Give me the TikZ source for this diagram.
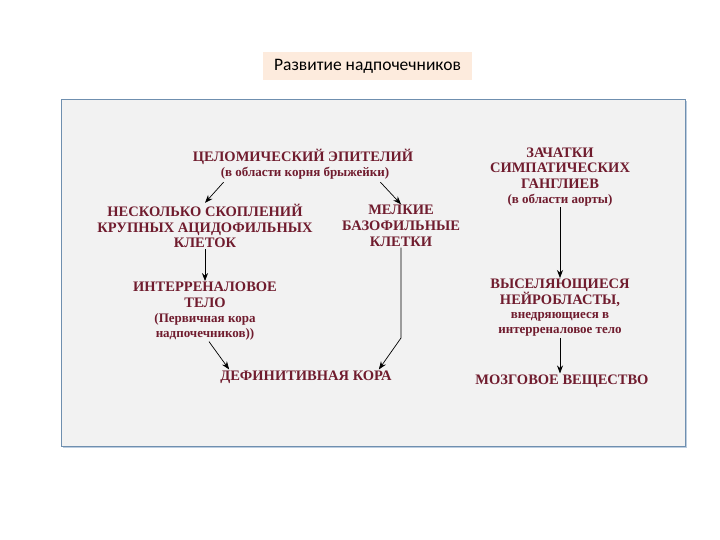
\documentclass[tikz,border=0pt]{standalone}
\usepackage{fontspec}
\setmainfont{Liberation Serif}
\newfontfamily\titlefont{Carlito}
\usetikzlibrary{positioning,calc,arrows.meta}
\usepackage{xcolor}
\definecolor{krasn}{HTML}{701C2E}
\definecolor{panelfon}{HTML}{F2F2F2}
\definecolor{panelram}{HTML}{6F8FAF}
\definecolor{panelten}{HTML}{BCCDE0}
\definecolor{titlefon}{HTML}{FDEBDD}
\tikzset{
zagl/.style={
  text=krasn,
  font=\bfseries\fontsize{14.5}{15.7}\selectfont,
  align=center,
  inner sep=1pt
  },
podp/.style={
  text=krasn,
  font=\bfseries\fontsize{13}{15.5}\selectfont,
  align=center,
  inner sep=1pt
  },
strel/.style={-{Stealth[length=8pt,width=6pt]},black,line width=0.7pt},
%tonk/.style={densely dashed}
}

\begin{document}
\begin{tikzpicture}[x=1pt,y=-1pt]
    \useasboundingbox (0,0) rectangle (720,540);
    % zagolovok
    \node[fill=titlefon,minimum width=209pt,minimum height=28pt,
          font=\titlefont\fontsize{17.5}{19}\selectfont] (titul) at (367.5,66)
          {Развитие надпочечников};
    % panel
    \fill[panelten] (62.5,101) rectangle (686.5,448);
    \draw[panelram,fill=panelfon,line width=0.8pt] (61,99) rectangle (685,446);

    % levaya vetv
    \node[zagl] (celom) at (303,157) {ЦЕЛОМИЧЕСКИЙ ЭПИТЕЛИЙ};
    \node[podp] (celomsub) at (305,173) {(в области корня брыжейки)};
    \node[zagl] (akid) at (205,226) {НЕСКОЛЬКО СКОПЛЕНИЙ\\КРУПНЫХ АЦИДОФИЛЬНЫХ\\КЛЕТОК};
    \node[zagl] (bazo) at (401,226) {МЕЛКИЕ\\БАЗОФИЛЬНЫЕ\\КЛЕТКИ};
    \node[zagl] (inter) at (205,295) {ИНТЕРРЕНАЛОВОЕ\\ТЕЛО};
    \node[podp,below=3pt of inter] (intersub) {(Первичная кора\\надпочечников))};
    \node[zagl] (defin) at (306,377) {ДЕФИНИТИВНАЯ КОРА};

    % pravaya vetv
    \node[zagl] (zach) at (560,168) {ЗАЧАТКИ\\СИМПАТИЧЕСКИХ\\ГАНГЛИЕВ};
    \node[podp,below=3pt of zach] (zachsub) {(в области аорты)};
    \node[zagl] (neuro) at (560,293) {ВЫСЕЛЯЮЩИЕСЯ\\НЕЙРОБЛАСТЫ,};
    \node[podp,below=3pt of neuro] (neurosub) {внедряющиеся в\\интерреналовое тело};
    \node[zagl] (mozg) at (562,381) {МОЗГОВОЕ ВЕЩЕСТВО};

    % strelki
    \coordinate (izgib) at (bazo.south |- 0,338);
    \draw[strel] ([xshift=4pt,yshift=-2pt]celomsub.south west) -- (akid.north);
    \draw[strel] ([xshift=-10pt,yshift=-2pt]celomsub.south east) -- (bazo.north);
    \draw[strel] (akid.south) -- (inter.north);
    \draw[strel] ([xshift=4pt]intersub.south) -- ([xshift=10pt]defin.north west);
    \draw[strel] (bazo.south) -- (izgib) -- ([xshift=-14pt]defin.north east);
    \draw[strel] (zachsub.south) -- (neuro.north);
    \draw[strel] (neurosub.south) -- (neurosub.south |- mozg.north);
\end{tikzpicture}
\end{document}
